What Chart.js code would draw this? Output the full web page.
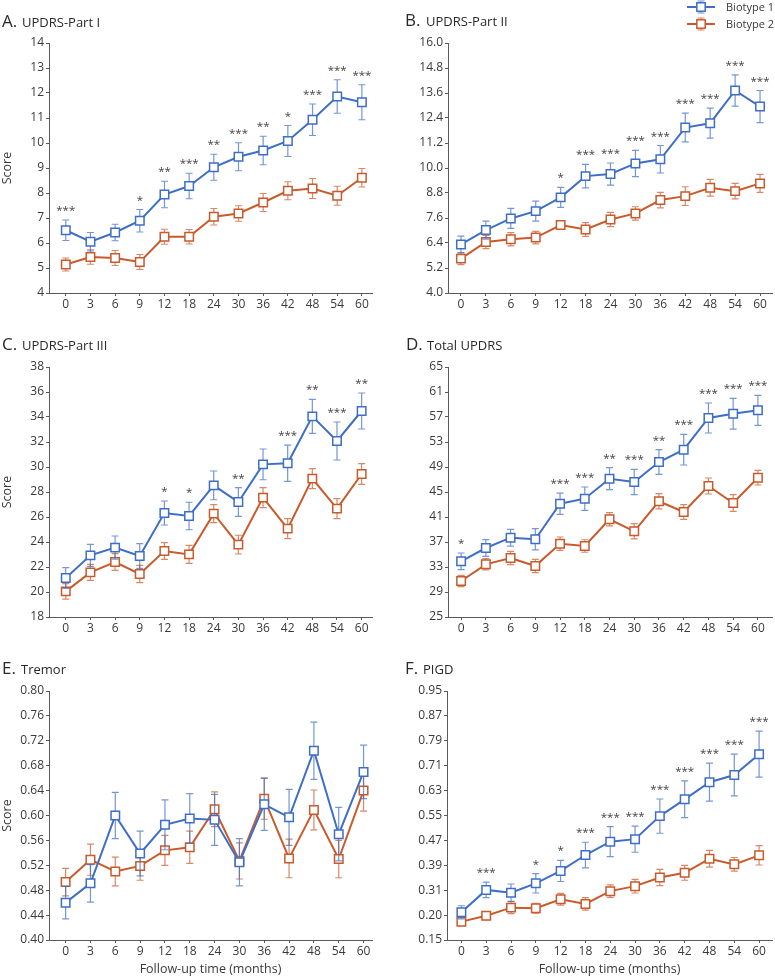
<!DOCTYPE html>
<html>
<head>
<meta charset="utf-8">
<script src="https://cdn.jsdelivr.net/npm/chart.js@4/dist/chart.umd.min.js"></script>
<style>
  body { margin: 0; background: #fff; }
  canvas { position: absolute; }
</style>
</head>
<body>
<canvas id="panelA" width="385" height="315" style="left:0px;top:0px"></canvas>
<canvas id="panelB" width="390" height="315" style="left:385px;top:0px"></canvas>
<canvas id="panelC" width="385" height="320" style="left:0px;top:315px"></canvas>
<canvas id="panelD" width="390" height="320" style="left:385px;top:315px"></canvas>
<canvas id="panelE" width="385" height="343" style="left:0px;top:635px"></canvas>
<canvas id="panelF" width="390" height="343" style="left:385px;top:635px"></canvas>
<script>
// follow-up visits (months)
const months = ['0', '3', '6', '9', '12', '18', '24', '30', '36', '42', '48', '54', '60'];

// A. UPDRS-Part I
const aTicks = ['4', '5', '6', '7', '8', '9', '10', '11', '12', '13', '14'];
const aB1 = [6.51, 6.05, 6.42, 6.89, 7.94, 8.28, 9.03, 9.45, 9.70, 10.08, 10.93, 11.86, 11.63];
const aB1Err = [0.41, 0.37, 0.33, 0.45, 0.53, 0.51, 0.52, 0.56, 0.57, 0.62, 0.63, 0.67, 0.70];
const aB2 = [5.14, 5.44, 5.40, 5.24, 6.25, 6.25, 7.05, 7.18, 7.62, 8.09, 8.18, 7.89, 8.61];
const aB2Err = [0.26, 0.29, 0.30, 0.30, 0.30, 0.29, 0.33, 0.31, 0.36, 0.36, 0.40, 0.38, 0.37];
const aSig = ['***', '', '', '*', '**', '***', '**', '***', '**', '*', '***', '***', '***'];

// B. UPDRS-Part II
const bTicks = ['4.0', '5.2', '6.4', '7.6', '8.8', '10.0', '11.2', '12.4', '13.6', '14.8', '16.0'];
const bB1 = [6.33, 7.02, 7.58, 7.93, 8.59, 9.61, 9.71, 10.22, 10.42, 11.94, 12.15, 13.72, 12.95];
const bB1Err = [0.40, 0.43, 0.48, 0.48, 0.48, 0.56, 0.53, 0.63, 0.66, 0.69, 0.72, 0.75, 0.77];
const bB2 = [5.65, 6.45, 6.58, 6.66, 7.26, 7.05, 7.53, 7.82, 8.46, 8.65, 9.05, 8.89, 9.26];
const bB2Err = [0.29, 0.32, 0.32, 0.30, 0.15, 0.33, 0.34, 0.32, 0.37, 0.45, 0.40, 0.37, 0.43];
const bSig = ['', '', '', '', '*', '***', '***', '***', '***', '***', '***', '***', '***'];

// C. UPDRS-Part III
const cTicks = ['18', '20', '22', '24', '26', '28', '30', '32', '34', '36', '38'];
const cB1 = [21.12, 22.93, 23.55, 22.88, 26.32, 26.08, 28.53, 27.20, 30.21, 30.30, 34.05, 32.08, 34.48];
const cB1Err = [0.83, 0.88, 0.93, 0.99, 0.96, 1.10, 1.15, 1.15, 1.23, 1.45, 1.36, 1.52, 1.44];
const cB2 = [20.05, 21.57, 22.40, 21.44, 23.28, 23.01, 26.27, 23.79, 27.55, 25.07, 29.07, 26.67, 29.44];
const cB2Err = [0.62, 0.64, 0.67, 0.69, 0.67, 0.72, 0.72, 0.75, 0.80, 0.80, 0.80, 0.80, 0.83];
const cSig = ['', '', '', '', '*', '*', '', '**', '', '***', '**', '***', '**'];

// D. Total UPDRS
const dTicks = ['25', '29', '33', '37', '41', '45', '49', '53', '57', '61', '65'];
const dB1 = [33.91, 36.04, 37.69, 37.43, 43.13, 43.93, 47.13, 46.60, 49.80, 51.77, 56.84, 57.53, 58.07];
const dB1Err = [1.33, 1.33, 1.34, 1.70, 1.70, 1.87, 1.76, 2.03, 1.97, 2.45, 2.40, 2.46, 2.40];
const dB2 = [30.76, 33.43, 34.44, 33.16, 36.73, 36.36, 40.63, 38.71, 43.51, 41.80, 45.96, 43.24, 47.29];
const dB2Err = [0.91, 0.90, 1.07, 1.07, 1.07, 1.00, 1.06, 1.22, 1.22, 1.17, 1.28, 1.33, 1.17];
const dSig = ['*', '', '', '', '***', '***', '**', '***', '**', '***', '***', '***', '***'];

// E. Tremor
const eTicks = ['0.40', '0.44', '0.48', '0.52', '0.56', '0.60', '0.64', '0.68', '0.72', '0.76', '0.80'];
const eB1 = [0.460, 0.491, 0.600, 0.539, 0.585, 0.595, 0.593, 0.525, 0.618, 0.597, 0.704, 0.570, 0.670];
const eB1Err = [0.026, 0.030, 0.037, 0.036, 0.040, 0.040, 0.041, 0.038, 0.042, 0.045, 0.046, 0.043, 0.043];
const eB2 = [0.493, 0.529, 0.510, 0.519, 0.544, 0.549, 0.610, 0.527, 0.627, 0.531, 0.609, 0.530, 0.640];
const eB2Err = [0.022, 0.025, 0.023, 0.023, 0.024, 0.026, 0.028, 0.029, 0.033, 0.031, 0.032, 0.030, 0.033];
const eSig = ['', '', '', '', '', '', '', '', '', '', '', '', ''];

// F. PIGD (tick labels as printed, evenly spaced)
const fTicks = ['0.15', '0.20', '0.31', '0.39', '0.47', '0.55', '0.63', '0.71', '0.79', '0.87', '0.95'];
const fB1 = [0.239, 0.311, 0.302, 0.332, 0.372, 0.423, 0.466, 0.474, 0.548, 0.602, 0.657, 0.680, 0.747];
const fB1Err = [0.021, 0.025, 0.028, 0.031, 0.034, 0.041, 0.048, 0.042, 0.055, 0.059, 0.061, 0.067, 0.074];
const fB2 = [0.209, 0.228, 0.254, 0.252, 0.281, 0.266, 0.307, 0.323, 0.351, 0.366, 0.411, 0.393, 0.422];
const fB2Err = [0.013, 0.013, 0.019, 0.016, 0.019, 0.020, 0.020, 0.022, 0.026, 0.024, 0.027, 0.022, 0.031];
const fSig = ['', '***', '', '*', '*', '***', '***', '***', '***', '***', '***', '***', '***'];

const BLUE = '#3e6ec5';
const ORANGE = '#c85a2c';
const BLUE_ERR = 'rgba(62,110,197,0.72)';
const ORANGE_ERR = 'rgba(200,90,44,0.72)';
const AXIS = '#5a5a5a';
const TEXT = '#3a3a3a';

Chart.defaults.font.family = "'Open Sans', 'Noto Sans', sans-serif";
Chart.defaults.color = TEXT;

const extras = {};

// error bars, significance stars, panel titles and the legend
const panelPlugin = {
    id: 'panelExtras',
    beforeDatasetDraw(chart, args) {
        const p = extras[chart.canvas.id];
        const errs = args.index === 0 ? p.b1Err : p.b2Err;
        const vals = args.index === 0 ? p.b1 : p.b2;
        const xs = chart.scales.x, ys = chart.scales.y;
        const ctx = chart.ctx;
        ctx.save();
        ctx.strokeStyle = args.index === 0 ? BLUE_ERR : ORANGE_ERR;
        ctx.lineWidth = 1.2;
        ctx.beginPath();
        vals.forEach((v, i) => {
            const px = xs.getPixelForValue(i);
            const top = ys.getPixelForValue(v + errs[i]);
            const bot = ys.getPixelForValue(v - errs[i]);
            ctx.moveTo(px, top); ctx.lineTo(px, bot);
            ctx.moveTo(px - 3.5, top); ctx.lineTo(px + 3.5, top);
            ctx.moveTo(px - 3.5, bot); ctx.lineTo(px + 3.5, bot);
        });
        ctx.stroke();
        ctx.restore();
    },
    afterDatasetsDraw(chart) {
        const p = extras[chart.canvas.id];
        const xs = chart.scales.x, ys = chart.scales.y;
        const ctx = chart.ctx;
        ctx.save();
        ctx.fillStyle = '#444';
        ctx.font = "11.5px 'Open Sans'";
        ctx.textAlign = 'center';
        ctx.textBaseline = 'alphabetic';
        p.sig.forEach((s, i) => {
            if (!s) return;
            const top = Math.max(p.b1[i] + p.b1Err[i], p.b2[i] + p.b2Err[i]);
            ctx.fillText(s, xs.getPixelForValue(i), ys.getPixelForValue(top) - 6);
        });
        ctx.restore();
    },
    afterDraw(chart) {
        const p = extras[chart.canvas.id];
        const ctx = chart.ctx;
        ctx.save();
        ctx.fillStyle = '#2a2a2a';
        ctx.textBaseline = 'alphabetic';
        ctx.textAlign = 'left';
        ctx.font = "17px 'Open Sans'";
        ctx.fillText(p.letter, p.titlePos[0], p.titlePos[1]);
        ctx.font = "13px 'Open Sans'";
        ctx.fillText(p.title, p.titlePos[2], p.titlePos[1]);
        if (p.legend) {
            [['Biotype 1', BLUE, BLUE_ERR, 7], ['Biotype 2', ORANGE, ORANGE_ERR, 24]].forEach(([name, col, errCol, y]) => {
                const x0 = 302, x1 = 330, xm = 316;
                ctx.strokeStyle = errCol;
                ctx.lineWidth = 1.2;
                ctx.beginPath();
                ctx.moveTo(xm, y - 6); ctx.lineTo(xm, y + 6);
                ctx.moveTo(xm - 3.5, y - 6); ctx.lineTo(xm + 3.5, y - 6);
                ctx.moveTo(xm - 3.5, y + 6); ctx.lineTo(xm + 3.5, y + 6);
                ctx.stroke();
                ctx.strokeStyle = col;
                ctx.lineWidth = 2;
                ctx.beginPath();
                ctx.moveTo(x0, y); ctx.lineTo(x1, y);
                ctx.stroke();
                ctx.fillStyle = '#fff';
                ctx.lineWidth = 1.5;
                ctx.fillRect(xm - 4.2, y - 4.2, 8.4, 8.4);
                ctx.strokeRect(xm - 4.2, y - 4.2, 8.4, 8.4);
                ctx.fillStyle = TEXT;
                ctx.font = "11px 'Open Sans'";
                ctx.textBaseline = 'middle';
                ctx.fillText(name, 341, y + 0.5);
            });
        }
        ctx.restore();
    }
};

function lineSet(label, vals, col) {
    return {
        label: label,
        data: vals.map((v, i) => ({ x: i, y: v })),
        borderColor: col,
        backgroundColor: '#fff',
        borderWidth: 2,
        pointStyle: 'rect',
        pointRadius: 6,
        pointBorderWidth: 1.5,
        pointBackgroundColor: '#fff',
        pointBorderColor: col,
        tension: 0
    };
}

function buildPanel(id, p) {
    const el = document.getElementById(id);
    const n = p.yTicks.length;
    const yVals = p.yTicks.map((_, i) => p.yMin + i * (p.yMax - p.yMin) / (n - 1));
    extras[id] = p;
    new Chart(el, {
        type: 'line',
        data: {
            datasets: [lineSet('Biotype 1', p.b1, BLUE), lineSet('Biotype 2', p.b2, ORANGE)]
        },
        options: {
            responsive: false,
            animation: false,
            layout: {
                autoPadding: false,
                padding: { left: 0, top: p.area[1], right: el.width - p.area[2], bottom: 0 }
            },
            plugins: { legend: { display: false }, tooltip: { enabled: false } },
            scales: {
                x: {
                    type: 'linear',
                    min: p.xMin,
                    max: p.xMax,
                    afterBuildTicks: s => { s.ticks = months.map((m, i) => ({ value: i })); },
                    afterFit: s => { s.height = el.height - p.area[3]; },
                    ticks: { callback: v => months[v], font: { size: 12 }, color: TEXT, padding: 1, maxRotation: 0, autoSkip: false },
                    grid: { drawOnChartArea: false, tickLength: 3, color: AXIS },
                    border: { color: AXIS, width: 1 },
                    title: { display: !!p.xTitle, text: 'Follow-up time (months)', font: { size: 12.5 }, color: TEXT, padding: { top: 0, bottom: 1.5 } }
                },
                y: {
                    min: p.yMin,
                    max: p.yMax,
                    afterBuildTicks: s => { s.ticks = yVals.map(v => ({ value: v })); },
                    afterFit: s => { s.width = p.area[0]; },
                    ticks: { callback: (v, i) => p.yTicks[i], font: { size: 12 }, color: TEXT, padding: 2, autoSkip: false },
                    grid: { drawOnChartArea: false, tickLength: 3, color: AXIS },
                    border: { color: AXIS, width: 1 },
                    title: { display: !!p.yTitle, text: 'Score', font: { size: 12.5 }, color: TEXT, padding: { top: 0, bottom: 0 } }
                }
            }
        },
        plugins: [panelPlugin]
    });
}

buildPanel('panelA', { letter: 'A.', title: 'UPDRS-Part I', titlePos: [2, 27, 22], yTitle: true,
    area: [49, 43, 372, 293], xMin: -0.68, xMax: 12.41, yMin: 4, yMax: 14, yTicks: aTicks,
    b1: aB1, b1Err: aB1Err, b2: aB2, b2Err: aB2Err, sig: aSig });
buildPanel('panelB', { letter: 'B.', title: 'UPDRS-Part II', titlePos: [20, 26, 41], legend: true,
    area: [63, 43, 387, 293], xMin: -0.52, xMax: 12.48, yMin: 4, yMax: 16, yTicks: bTicks,
    b1: bB1, b1Err: bB1Err, b2: bB2, b2Err: bB2Err, sig: bSig });
buildPanel('panelC', { letter: 'C.', title: 'UPDRS-Part III', titlePos: [2, 35, 22], yTitle: true,
    area: [49, 52, 372, 302], xMin: -0.68, xMax: 12.42, yMin: 18, yMax: 38, yTicks: cTicks,
    b1: cB1, b1Err: cB1Err, b2: cB2, b2Err: cB2Err, sig: cSig });
buildPanel('panelD', { letter: 'D.', title: 'Total UPDRS', titlePos: [21, 35, 42],
    area: [63, 52, 387, 302], xMin: -0.53, xMax: 12.57, yMin: 25, yMax: 65, yTicks: dTicks,
    b1: dB1, b1Err: dB1Err, b2: dB2, b2Err: dB2Err, sig: dSig });
buildPanel('panelE', { letter: 'E.', title: 'Tremor', titlePos: [2, 39, 21], yTitle: true, xTitle: true,
    area: [49, 56, 372, 305], xMin: -0.67, xMax: 12.34, yMin: 0.40, yMax: 0.80, yTicks: eTicks,
    b1: eB1, b1Err: eB1Err, b2: eB2, b2Err: eB2Err, sig: eSig });
buildPanel('panelF', { letter: 'F.', title: 'PIGD', titlePos: [20, 39, 38], xTitle: true,
    area: [62, 56, 387, 305], xMin: -0.58, xMax: 12.52, yMin: 0.15, yMax: 0.95, yTicks: fTicks,
    b1: fB1, b1Err: fB1Err, b2: fB2, b2Err: fB2Err, sig: fSig });
</script>
</body>
</html>
